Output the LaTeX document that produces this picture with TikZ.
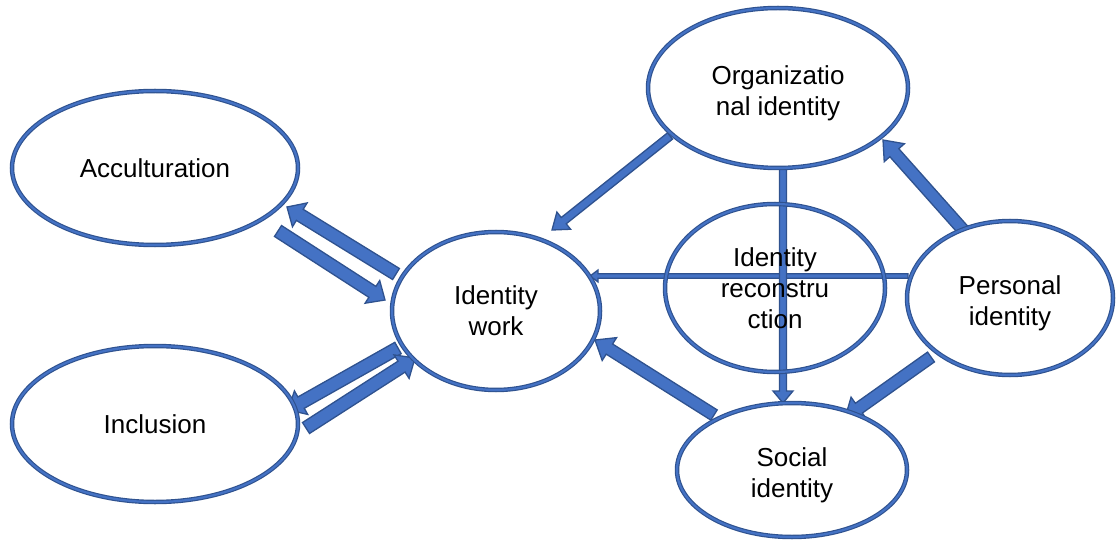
\documentclass[tikz,border=0pt]{standalone}
\usepackage{fontspec}
\setmainfont{Liberation Sans}
\usetikzlibrary{shapes.geometric,calc,backgrounds}
\definecolor{boxblue}{HTML}{4472C4}
\definecolor{edgeblue}{HTML}{2F528F}

% Block arrow drawn as a filled polygon:
% #1 tail, #2 tip, #3 shaft width, #4 head width, #5 head length (all in pt)
\newcommand\blockarrow[5]{%
  \path[blockarrowstyle] let \p1=($(#2)-(#1)$), \n1={atan2(\y1,\x1)},
    \n2={veclen(\x1,\y1)} in
    ($(#1)+({\n1+90}:{0.5*#3*1pt})$)
    -- ($(#1)+(\n1:{(\n2-#5)*1pt})+({\n1+90}:{0.5*#3*1pt})$)
    -- ($(#1)+(\n1:{(\n2-#5)*1pt})+({\n1+90}:{0.5*#4*1pt})$)
    -- (#2)
    -- ($(#1)+(\n1:{(\n2-#5)*1pt})+({\n1-90}:{0.5*#4*1pt})$)
    -- ($(#1)+(\n1:{(\n2-#5)*1pt})+({\n1-90}:{0.5*#3*1pt})$)
    -- ($(#1)+({\n1-90}:{0.5*#3*1pt})$) -- cycle;}
% taller first line, which sets the text a little lower in its bubble
\newcommand\tallline{\rule{0pt}{29pt}}

\begin{document}
\begin{tikzpicture}[x=1pt,y=-1pt,
  blockarrowstyle/.style={fill=boxblue,draw=edgeblue,line width=1.3pt,line join=miter},
  bubble/.style={ellipse,draw=edgeblue,double=boxblue,double distance=2.2pt,
    line width=1.15pt,fill=white,inner sep=0pt,align=center,
    font=\fontsize{26}{31}\selectfont}]
\useasboundingbox (0,0) rectangle (1116,540);

\node[bubble,minimum width=286pt,minimum height=154pt] (acc) at (155,168) {Acculturation};
\node[bubble,minimum width=286pt,minimum height=156pt] (inc) at (155,424) {Inclusion};
\node[bubble,minimum width=208pt,minimum height=158pt] (iw)  at (496,311) {Identity\\work};
\node[bubble,minimum width=260pt,minimum height=160pt] (org) at (778,88)  {\tallline Organizatio\\nal identity};
\node[bubble,fill=none,minimum width=220pt,minimum height=168pt] (rec) at (775,288) {Identity\\reconstru\\ction};
\node[bubble,minimum width=206pt,minimum height=154pt] (per) at (1010,298) {\tallline Personal\\identity};
\node[bubble,minimum width=230pt,minimum height=134pt] (soc) at (792,470) {\tallline Social\\identity};

\begin{scope}[on background layer]
  % paired arrows between Identity work and the two left bubbles
  \blockarrow{$(iw)+(-100,-37)$}{$(acc)+(132,39)$}{13}{28}{15}
  \blockarrow{$(acc)+(123,63)$}{$(iw)+(-111,-11)$}{13}{27}{15}
  \blockarrow{$(iw)+(-98,37)$}{$(inc)+(133,-14)$}{13}{27}{15}
  \blockarrow{$(inc)+(151,4)$}{$(iw)+(-81,47)$}{13}{28}{16}
  % arrows on the right-hand side
  \blockarrow{$(org)+(-108,48)$}{$(iw)+(56,-81)$}{8}{22}{15}
  \blockarrow{$(per)+(-102,-22)$}{$(iw)+(94,-35)$}{4.5}{12}{8}
  \blockarrow{$(org)+(5,80)$}{$(soc)+(-9,-67)$}{7}{20}{12}
  \blockarrow{$(per)+(-46,-67)$}{$(org)+(105,52)$}{12}{27}{17}
  \blockarrow{$(per)+(-79,59)$}{$(soc)+(53,-52)$}{12}{27}{17}
  \blockarrow{$(soc)+(-78,-55)$}{$(iw)+(99,29)$}{12}{27}{17}
\end{scope}
\end{tikzpicture}
\end{document}
